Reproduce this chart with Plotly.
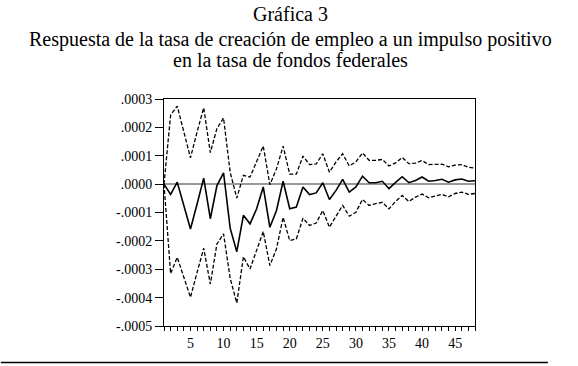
import plotly.graph_objects as go

periods = list(range(1, 49))

response = [0.0, -0.000036, 0.000007, -0.00008, -0.000158, -0.00007, 0.000021, -0.000122,
            -0.000005, 0.00004, -0.000155, -0.000238, -0.00011, -0.00014, -0.000087, -0.00001,
            -0.000152, -0.000093, 0.00001, -0.000087, -0.000081, -0.00001, -0.000037, -0.000031,
            0.000005, -0.000054, -0.000022, 0.000017, -0.000028, -0.00001, 0.000028, 0.000005,
            0.000005, 0.00001, -0.000016, 0.000006, 0.000026, 0.000005, 0.000013, 0.000025,
            0.00001, 0.000013, 0.000017, 0.000007, 0.000015, 0.000018, 0.00001, 0.000012]

upper = [0.0, 0.000243, 0.000275, 0.000184, 0.000093, 0.000184, 0.000269, 0.000111,
         0.000196, 0.000233, 0.000042, -0.000049, 0.000031, 0.000025, 0.000078, 0.000134,
         -0.000002, 0.000054, 0.000134, 0.000035, 0.000035, 0.000099, 0.000069, 0.000071,
         0.000107, 0.000042, 0.000078, 0.000107, 0.000064, 0.000078, 0.00011, 0.000084,
         0.000084, 0.000087, 0.000064, 0.000075, 0.000094, 0.000072, 0.000074, 0.000083,
         0.000069, 0.000069, 0.00007, 0.000061, 0.000067, 0.000069, 0.000059, 0.000057]

lower = [0.0, -0.000315, -0.000258, -0.000329, -0.000399, -0.000311, -0.000226, -0.000352,
         -0.000211, -0.000175, -0.000332, -0.000419, -0.000256, -0.000299, -0.000234, -0.000167,
         -0.000287, -0.000228, -0.000117, -0.000199, -0.000193, -0.00012, -0.000146, -0.000137,
         -0.000093, -0.000152, -0.000113, -0.000075, -0.000113, -0.000099, -0.000054, -0.000075,
         -0.000069, -0.000064, -0.000087, -0.000061, -0.00004, -0.000061, -0.000046, -0.000035,
         -0.000048, -0.000042, -0.000036, -0.000045, -0.000033, -0.000028, -0.000036, -0.000033]

y_tickvals = [0.0003, 0.0002, 0.0001, 0.0, -0.0001, -0.0002, -0.0003, -0.0004, -0.0005]
y_ticktext = [".0003", ".0002", ".0001", ".0000", "-.0001", "-.0002", "-.0003", "-.0004", "-.0005"]
x_tickvals = [5, 10, 15, 20, 25, 30, 35, 40, 45]

title_lines = ["Gráfica 3",
               "Respuesta de la tasa de creación de empleo a un impulso positivo",
               "en la tasa de fondos federales"]

FONT = "Liberation Serif, Times New Roman, serif"

W, H = 578, 366
PL, PR, PT, PB = 163.5, 475, 99, 326   # plot area in page px
PW, PH = PR - PL, PB - PT


def px_to_paper_x(px):
    return (px - PL) / PW


def px_to_paper_y(py):
    return (PB - py) / PH


fig = go.Figure()
fig.add_trace(go.Scatter(x=periods, y=upper, mode="lines",
                         line=dict(color="black", width=1.3, dash="4px,2px"), showlegend=False))
fig.add_trace(go.Scatter(x=periods, y=lower, mode="lines",
                         line=dict(color="black", width=1.3, dash="4px,2px"), showlegend=False))
fig.add_trace(go.Scatter(x=periods, y=response, mode="lines",
                         line=dict(color="black", width=1.6), showlegend=False))

fig.update_layout(
    width=W, height=H,
    margin=dict(l=PL, r=W - PR, t=PT, b=H - PB, pad=0),
    paper_bgcolor="white", plot_bgcolor="white",
    font=dict(family=FONT, color="black", size=14),
    showlegend=False,
)

fig.update_xaxes(range=[1, 48], tickvals=x_tickvals, ticks="outside", ticklen=4,
                 tickcolor="black", showline=True, linecolor="black", linewidth=1,
                 mirror=True, showgrid=False, zeroline=False,
                 minor=dict(dtick=1, tick0=1, ticks="outside", ticklen=4, tickcolor="black"),
                 tickfont=dict(family=FONT, size=14))
fig.update_yaxes(range=[-0.0005, 0.0003], tickvals=y_tickvals, ticktext=y_ticktext,
                 ticks="outside", ticklen=8, tickcolor="black", showline=True,
                 linecolor="black", linewidth=1, mirror=True, showgrid=False,
                 zeroline=True, zerolinecolor="#999999", zerolinewidth=1.5,
                 tickfont=dict(family=FONT, size=14))

for txt, ypix in zip(title_lines, [14, 40, 60]):
    fig.add_annotation(text=txt, xref="paper", yref="paper",
                       x=px_to_paper_x(290), y=px_to_paper_y(ypix),
                       xanchor="center", yanchor="middle", showarrow=False,
                       font=dict(family=FONT, size=20, color="black"))

fig.add_shape(type="line", xref="paper", yref="paper",
              x0=px_to_paper_x(0), x1=px_to_paper_x(548),
              y0=px_to_paper_y(362.5), y1=px_to_paper_y(362.5),
              line=dict(color="black", width=1.5))

fig.write_html("out.html", config={"displayModeBar": False},
               post_script="document.body.style.margin='0';document.body.style.padding='0';")
